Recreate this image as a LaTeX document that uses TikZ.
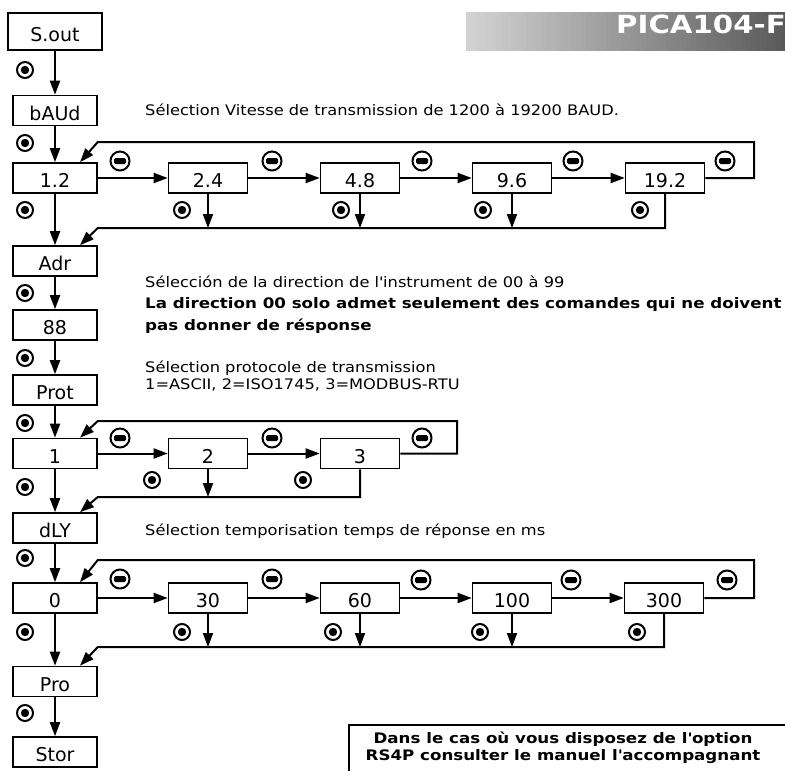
\documentclass[tikz,border=0pt]{standalone}
\usepackage{fontspec}
\setmainfont{DejaVu Sans}
\newfontfamily\notefont[FakeStretch=1.12]{DejaVu Sans}
\newfontfamily\warnfont[FakeStretch=1.15]{DejaVu Sans}
\newfontfamily\bannerfont[FakeStretch=1.17]{DejaVu Sans}
\usetikzlibrary{arrows.meta, positioning}
\definecolor{bannerlight}{HTML}{D2D2D2}
\definecolor{bannerdark}{HTML}{5A5A5A}

\begin{document}
\begin{tikzpicture}[x=1pt, y=-1pt,
    menu/.style={draw, line width=1.6pt, minimum width=84pt, minimum height=30pt, inner sep=0pt, text height=19pt, text depth=0pt, font=\fontsize{19}{19}\selectfont},
    choice/.style={menu, minimum width=79pt},
    arrow/.style={-{Triangle[length=14pt, width=10pt]}, line width=2pt},
    link/.style={line width=1.6pt},
    okbtn/.style={circle, draw, line width=2pt, minimum size=16pt, inner sep=0pt, path picture={\fill (path picture bounding box.center) circle (4.2pt);}},
    minusbtn/.style={circle, draw, line width=2pt, minimum size=19pt, inner sep=0pt, path picture={\fill[rounded corners=1.5pt] ([xshift=-6pt, yshift=-3pt]path picture bounding box.center) rectangle ([xshift=6pt, yshift=3pt]path picture bounding box.center);}},
    note/.style={anchor=base west, inner sep=0pt, font=\notefont\fontsize{14.5}{17}\selectfont},
    boldnote/.style={note, font=\warnfont\fontsize{14.5}{17}\selectfont\bfseries},
    optnote/.style={anchor=base, inner sep=0pt, font=\warnfont\fontsize{14.5}{17}\selectfont\bfseries}
]
\useasboundingbox (0,0) rectangle (785,771);

% title banner, light to dark
\foreach \i in {0,...,63} {
  \pgfmathtruncatemacro{\mix}{100*\i/63}
  \fill[bannerdark!\mix!bannerlight] ({466+\i*5},12) rectangle ++(5.5,39);
}
\node[anchor=base east, inner sep=0pt, text=white, font=\bannerfont\fontsize{25}{25}\selectfont\bfseries] (title) at (786,33) {PICA104-F};

% main column
\node[menu, minimum width=94pt, minimum height=37pt] (sout) at (55,31.5) {S.out};
\node[menu] (baud) at (55,110.5) {bAUd};
\node[menu] (r12) at (55,178) {1.2};
\node[menu] (adr) at (55,261) {Adr};
\node[menu] (addr) at (55,325) {88};
\node[menu] (prot) at (55,390) {Prot};
\node[menu] (p1) at (55,453.5) {1};
\node[menu] (dly) at (55,528) {dLY};
\node[menu] (d0) at (55,598) {0};
\node[menu] (pro) at (55,681.5) {Pro};
\node[menu] (stor) at (55,752) {Stor};

% baud rate row
\node[choice] (r24) at (208,178) {2.4};
\node[choice] (r48) at (360,178) {4.8};
\node[choice] (r96) at (512,178) {9.6};
\node[choice] (r192) at (665,178) {19.2};

% protocol row
\node[choice] (p2) at (208,453.5) {2};
\node[choice] (p3) at (360,453.5) {3};

% delay row
\node[choice] (d30) at (208,598) {30};
\node[choice] (d60) at (360,598) {60};
\node[choice] (d100) at (512,598) {100};
\node[choice] (d300) at (664,598) {300};

% loop corners
\coordinate (baudtop) at (754,142);
\coordinate (baudret) at (0,228);
\coordinate (prottop) at (457,421);
\coordinate (protret) at (0,497);
\coordinate (dlytop) at (754,560);
\coordinate (dlyret) at (0,647);

% texts
\node[note] (baudtxt) at (145,115) {Sélection Vitesse de transmission de 1200 à 19200 BAUD.};
\node[note] (adrtxt) at (145,287) {Sélección de la direction de l\textquotesingle instrument de 00 à 99};
\node[boldnote] (adrwarn) at (145,308) {La direction 00 solo admet seulement des comandes qui ne doivent};
\node[boldnote] (adrwarnb) at (145,330) {pas donner de résponse};
\node[note] (prottxt) at (145,372) {Sélection protocole de transmission};
\node[note] (protlist) at (145,389) {1=ASCII, 2=ISO1745, 3=MODBUS-RTU};
\node[note] (dlytxt) at (145,535) {Sélection temporisation temps de réponse en ms};

% select keys
\node[okbtn] (ok1) at (25,70) {};
\node[okbtn] (ok2) at (25,143) {};
\node[okbtn] (ok3) at (25,210) {};
\node[okbtn] (ok4) at (25,293) {};
\node[okbtn] (ok5) at (25,358) {};
\node[okbtn] (ok6) at (25,423) {};
\node[okbtn] (ok7) at (25,487) {};
\node[okbtn] (ok8) at (25,558) {};
\node[okbtn] (ok9) at (25,632) {};
\node[okbtn] (ok10) at (25,713) {};
\node[okbtn] (okr24) at (182,210) {};
\node[okbtn] (okr48) at (341,210) {};
\node[okbtn] (okr96) at (483,210) {};
\node[okbtn] (okr192) at (640,210) {};
\node[okbtn] (okp2) at (152,480) {};
\node[okbtn] (okp3) at (303,480) {};
\node[okbtn] (okd30) at (182,632) {};
\node[okbtn] (okd60) at (333,632) {};
\node[okbtn] (okd100) at (480,632) {};
\node[okbtn] (okd300) at (637,632) {};

% minus keys
\node[minusbtn] (mr12) at (120,161) {};
\node[minusbtn] (mr24) at (272,161) {};
\node[minusbtn] (mr48) at (422,161) {};
\node[minusbtn] (mr96) at (573,161) {};
\node[minusbtn] (mr192) at (725,161) {};
\node[minusbtn] (mp1) at (120,438) {};
\node[minusbtn] (mp2) at (272,438) {};
\node[minusbtn] (mp3) at (422,438) {};
\node[minusbtn] (md0) at (120,579) {};
\node[minusbtn] (md30) at (272,579) {};
\node[minusbtn] (md60) at (421,580) {};
\node[minusbtn] (md100) at (571,580) {};
\node[minusbtn] (md300) at (727,580) {};

% main column arrows
\draw[arrow] (sout) -- (baud);
\draw[arrow] (baud) -- (r12);
\draw[arrow] (r12) -- (adr);
\draw[arrow] (adr) -- (addr);
\draw[arrow] (addr) -- (prot);
\draw[arrow] (prot) -- (p1);
\draw[arrow] (p1) -- (dly);
\draw[arrow] (dly) -- (d0);
\draw[arrow] (d0) -- (pro);
\draw[arrow] (pro) -- (stor);

% baud rate choices
\draw[arrow] (r12) -- (r24);
\draw[arrow] (r24) -- (r48);
\draw[arrow] (r48) -- (r96);
\draw[arrow] (r96) -- (r192);
\draw[arrow] (r192.east) -| (baudtop) -- (baudtop -| r12.east) -- ([xshift=25pt]r12.north);
\draw[arrow] (r24) -- (r24 |- baudret);
\draw[arrow] (r48) -- (r48 |- baudret);
\draw[arrow] (r96) -- (r96 |- baudret);
\draw[arrow] (r192) -- (r192 |- baudret) -- (baudret -| r12.east) -- ([xshift=25pt]adr.north);

% protocol choices
\draw[arrow] (p1) -- (p2);
\draw[arrow] (p2) -- (p3);
\draw[arrow] (p3.east) -| (prottop) -- (prottop -| p1.east) -- ([xshift=25pt]p1.north);
\draw[arrow] (p2) -- (p2 |- protret);
\draw[arrow] (p3) -- (p3 |- protret) -- (protret -| p1.east) -- ([xshift=25pt]dly.north);

% delay choices
\draw[arrow] (d0) -- (d30);
\draw[arrow] (d30) -- (d60);
\draw[arrow] (d60) -- (d100);
\draw[arrow] (d100) -- (d300);
\draw[arrow] (d300.east) -| (dlytop) -- (dlytop -| d0.east) -- ([xshift=25pt]d0.north);
\draw[arrow] (d30) -- (d30 |- dlyret);
\draw[arrow] (d60) -- (d60 |- dlyret);
\draw[arrow] (d100) -- (d100 |- dlyret);
\draw[arrow] (d300) -- (d300 |- dlyret) -- (dlyret -| d0.east) -- ([xshift=25pt]pro.north);

% option note
\draw[link] (349,725) rectangle (800,800);
\node[optnote] (rsnote) at (563,743) {Dans le cas où vous disposez de l\textquotesingle option};
\node[optnote] (rsnoteb) at (563,760) {RS4P consulter le manuel l\textquotesingle accompagnant};
\end{tikzpicture}
\end{document}
